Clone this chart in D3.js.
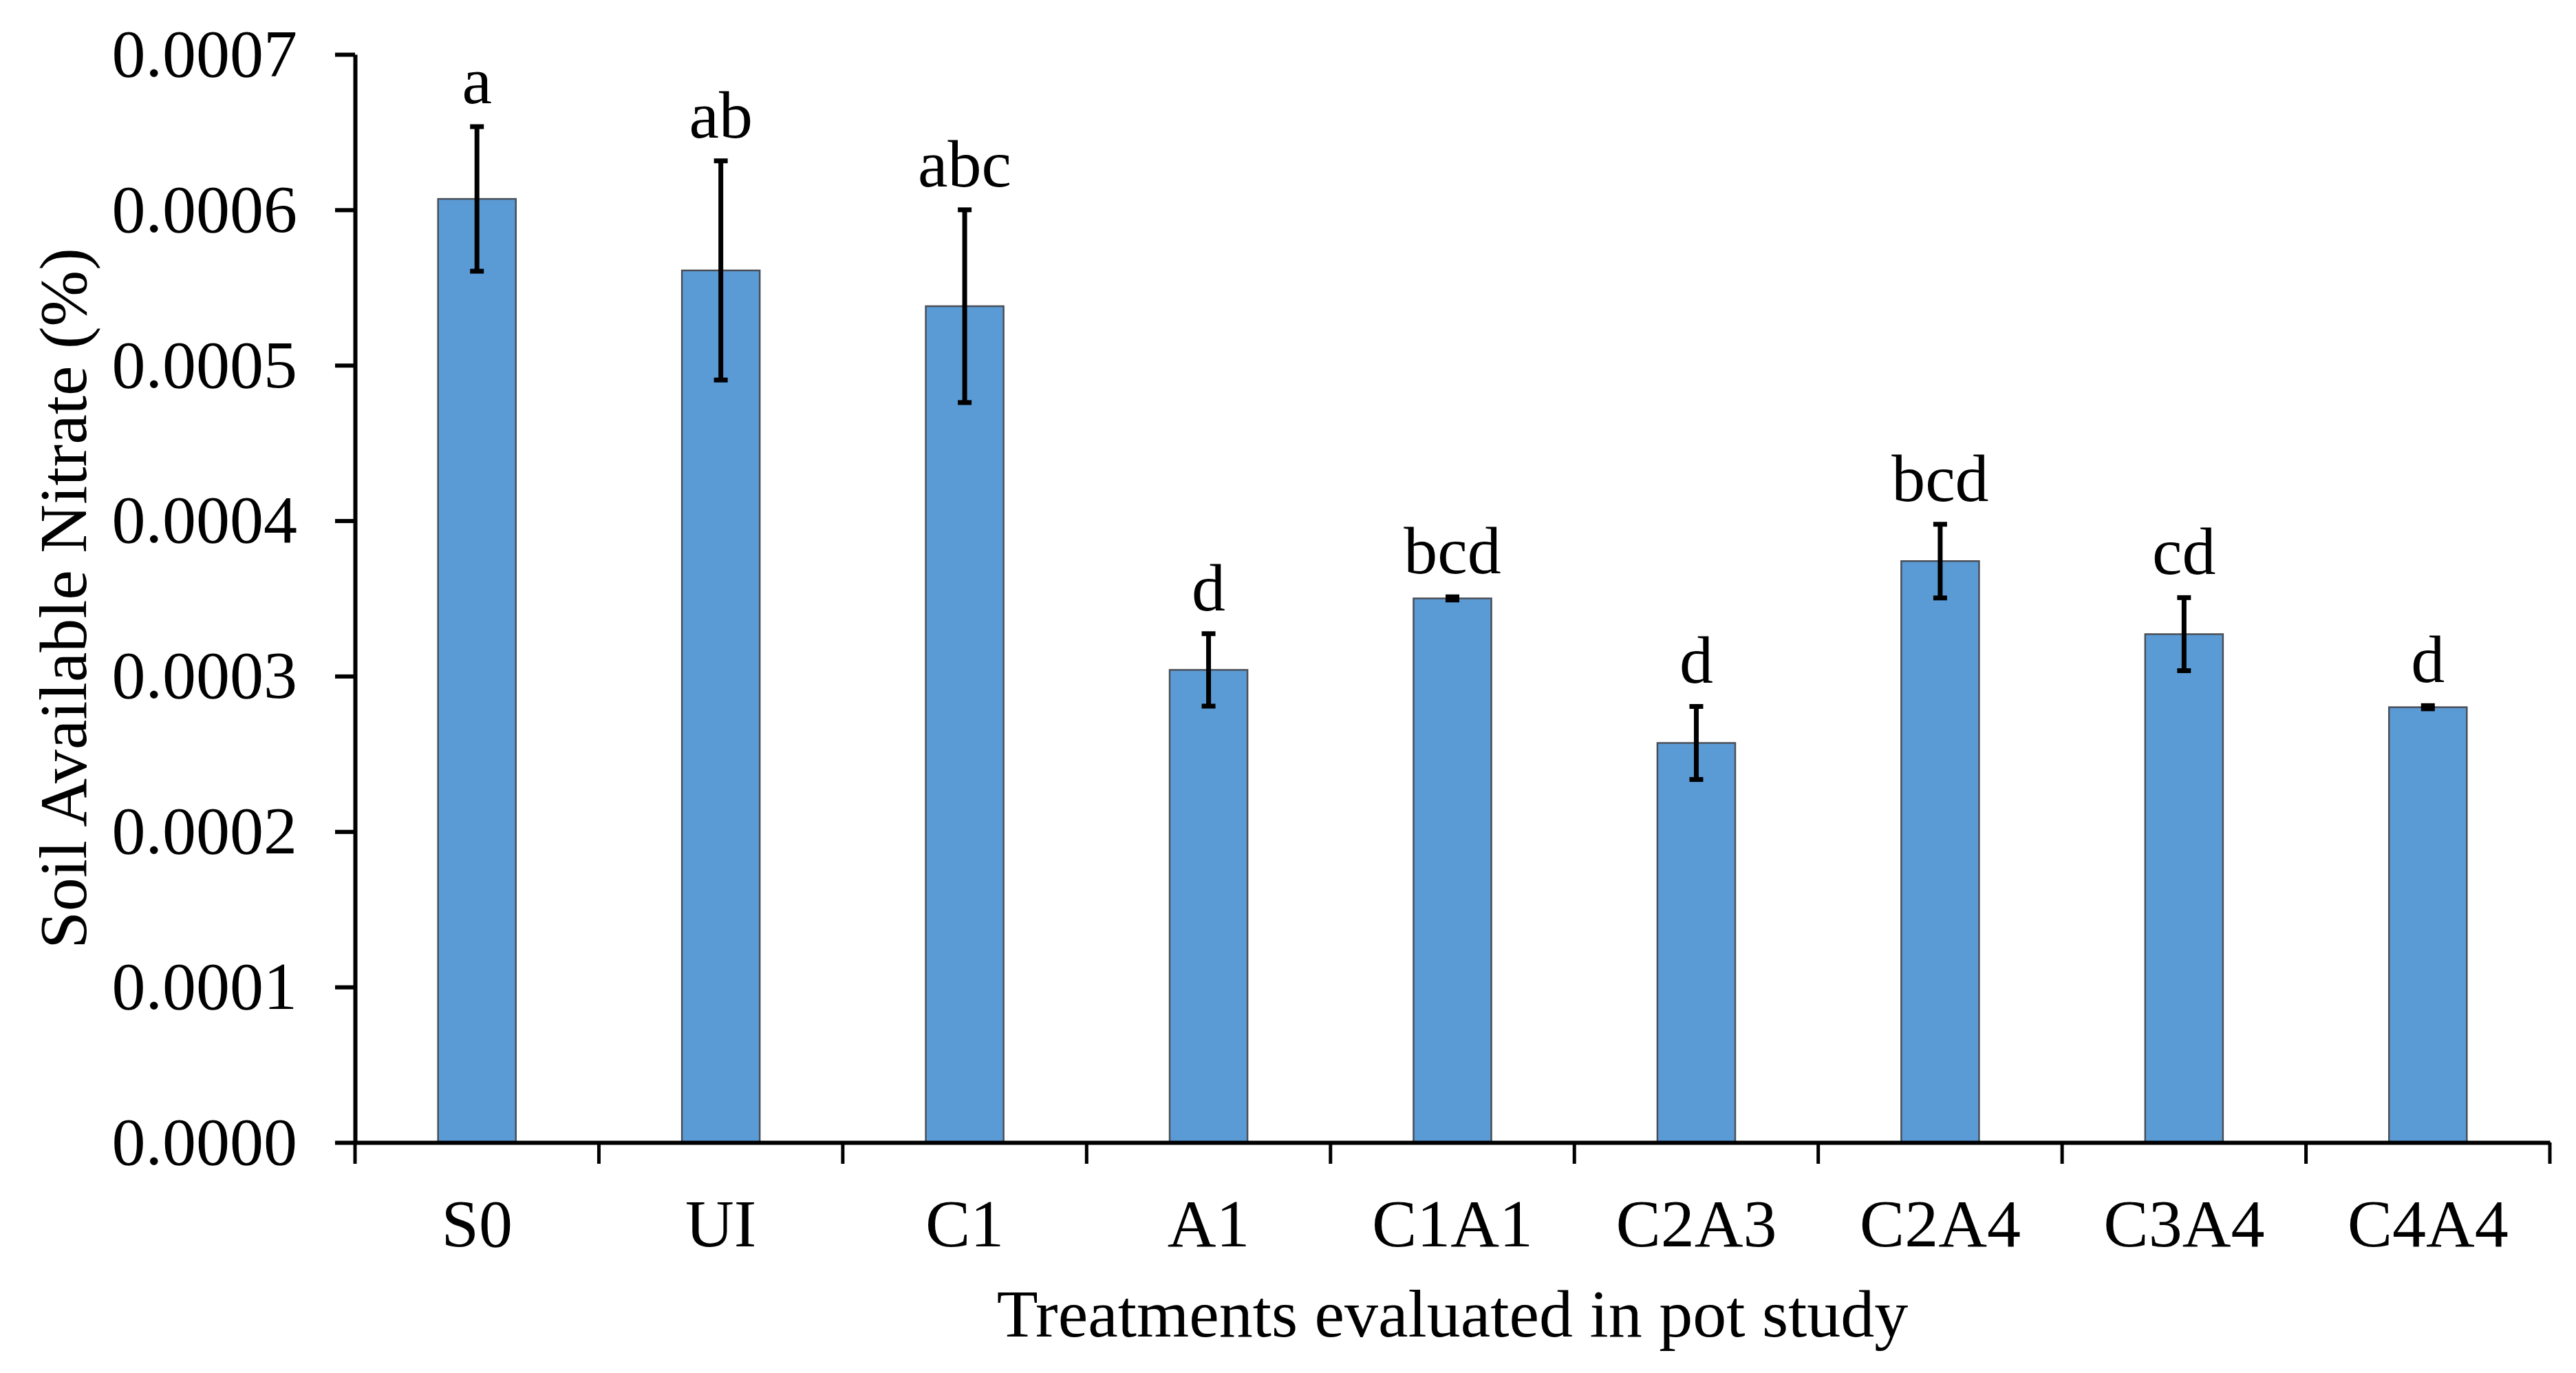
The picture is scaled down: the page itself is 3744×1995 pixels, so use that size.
<!DOCTYPE html>
<html>
<head>
<meta charset="utf-8">
<script src="https://cdn.jsdelivr.net/npm/d3@7"></script>
<style>
  html, body { margin: 0; padding: 0; background: #fff; }
  svg { display: block; }
</style>
</head>
<body>
<svg id="chart" width="3744" height="1995"></svg>
<script>
// ---- data ----
const categories = ["S0", "UI", "C1", "A1", "C1A1", "C2A3", "C2A4", "C3A4", "C4A4"];
const means      = [0.000607, 0.000561, 0.000538, 0.000304, 0.000350, 0.000257, 0.000374, 0.000327, 0.000280];
const errors     = [0.0000465, 0.0000705, 0.000062, 0.0000233, 0.000001, 0.0000235, 0.0000237, 0.0000235, 0.000001];
const letters    = ["a", "ab", "abc", "d", "bcd", "d", "bcd", "cd", "d"];
const yTicks     = [0, 0.0001, 0.0002, 0.0003, 0.0004, 0.0005, 0.0006, 0.0007];
const yTitle     = "Soil Available Nitrate (%)";
const xTitle     = "Treatments evaluated in pot study";

(function () {
const rows = categories.map((c, i) => ({ cat: c, v: means[i], e: errors[i], l: letters[i] }));

// ---- layout ----
const mLeft = 516, mRight = 3706, mTop = 79, mBottom = 1660;
const FONT = "'Liberation Serif', 'Times New Roman', serif";
const FS = 98;

const svg = d3.select("#chart");

const x = d3.scaleBand().domain(categories).range([mLeft, mRight])
  .paddingInner(0.681).paddingOuter(0.3405);
const y = d3.scaleLinear().domain([0, 0.0007]).range([mBottom, mTop]);

// bars
svg.append("g").selectAll("rect").data(rows).join("rect")
  .attr("x", d => x(d.cat))
  .attr("y", d => y(d.v))
  .attr("width", x.bandwidth())
  .attr("height", d => y(0) - y(d.v))
  .attr("fill", "#5B9BD5")
  .attr("stroke", "#4a4f57")
  .attr("stroke-width", 2.5);

// error bars
const eg = svg.append("g").attr("stroke", "#000").attr("stroke-width", 7);
rows.forEach(d => {
  const cx = x(d.cat) + x.bandwidth() / 2;
  const y1 = y(d.v + d.e), y2 = y(d.v - d.e);
  eg.append("line").attr("x1", cx).attr("x2", cx).attr("y1", y1).attr("y2", y2);
  eg.append("line").attr("x1", cx - 10).attr("x2", cx + 10).attr("y1", y1).attr("y2", y1);
  eg.append("line").attr("x1", cx - 10).attr("x2", cx + 10).attr("y1", y2).attr("y2", y2);
});

// significance letters
svg.append("g").selectAll("text").data(rows).join("text")
  .attr("x", d => x(d.cat) + x.bandwidth() / 2)
  .attr("y", d => y(d.v + d.e) - 34)
  .attr("text-anchor", "middle")
  .attr("font-family", FONT)
  .attr("font-size", FS)
  .attr("fill", "#000")
  .text(d => d.l);

// y axis
const yAxis = svg.append("g").attr("transform", `translate(${mLeft},0)`)
  .call(d3.axisLeft(y).tickValues(yTicks).tickFormat(d3.format(".4f"))
    .tickSize(29).tickSizeOuter(0).tickPadding(55));
yAxis.select(".domain").attr("stroke", "#000").attr("stroke-width", 6);
yAxis.selectAll(".tick line").attr("stroke", "#000").attr("stroke-width", 6);
yAxis.selectAll(".tick text").attr("font-family", FONT).attr("font-size", FS).attr("fill", "#000");

// x axis (labels + domain)
const xAxis = svg.append("g").attr("transform", `translate(0,${mBottom})`)
  .call(d3.axisBottom(x).tickSize(0).tickSizeOuter(0).tickPadding(81));
xAxis.select(".domain").attr("stroke", "#000").attr("stroke-width", 6);
xAxis.selectAll(".tick text").attr("font-family", FONT).attr("font-size", FS).attr("fill", "#000");

// x boundary ticks (between categories)
const half = (x.step() - x.bandwidth()) / 2;
const bounds = categories.map(c => x(c) - half).concat([x(categories[categories.length - 1]) + x.bandwidth() + half]);
svg.append("g").selectAll("line").data(bounds).join("line")
  .attr("x1", d => d).attr("x2", d => d)
  .attr("y1", mBottom).attr("y2", mBottom + 31)
  .attr("stroke", "#000").attr("stroke-width", 5);

// titles
svg.append("text")
  .attr("x", (mLeft + mRight) / 2).attr("y", 1942)
  .attr("text-anchor", "middle")
  .attr("font-family", FONT).attr("font-size", FS).attr("fill", "#000")
  .text(xTitle);

svg.append("text")
  .attr("transform", `translate(125,${(mTop + mBottom) / 2}) rotate(-90)`)
  .attr("text-anchor", "middle")
  .attr("font-family", FONT).attr("font-size", FS).attr("fill", "#000")
  .text(yTitle);
})();
</script>
</body>
</html>
